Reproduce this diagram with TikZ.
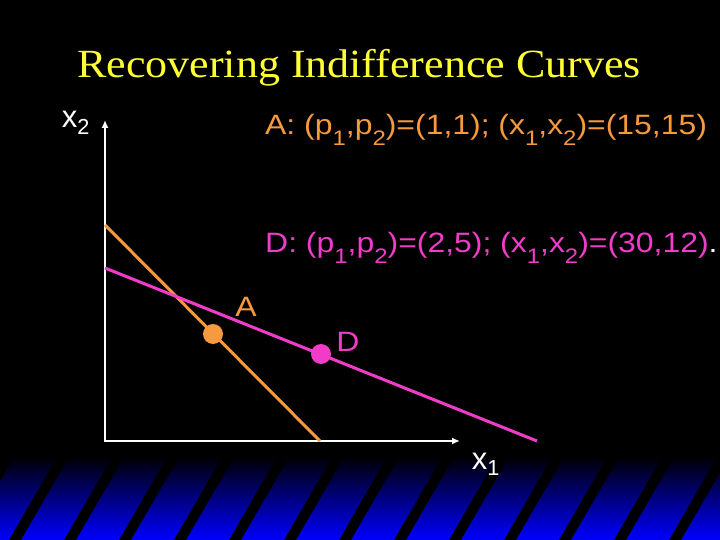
\documentclass[tikz,border=0pt]{standalone}
\usepackage{fontspec}
\setmainfont{Liberation Sans}
\newfontfamily\titlefont{Liberation Serif}
\usetikzlibrary{arrows.meta, positioning, calc}
\definecolor{titleyellow}{RGB}{255,255,51}
\definecolor{budgetorange}{RGB}{247,153,61}
\definecolor{budgetpink}{RGB}{240,60,200}
\definecolor{bandblue}{RGB}{0,0,255}
\newcommand{\lowsub}[1]{\raisebox{-11pt}{\fontsize{21}{21}\selectfont #1}}
\newcommand{\widetext}[1]{\scalebox{1.14}[1]{#1}}

\begin{document}
\begin{tikzpicture}[x=1pt, y=-1pt,
  axis/.style={white, line width=2pt, {Latex[length=8pt,width=7pt]}-{Latex[length=8pt,width=7pt]}},
  budget/.style={line width=3pt},
  bundle/.style={circle, inner sep=0pt, minimum size=20pt},
  infotext/.style={font=\fontsize{28}{32}\selectfont, anchor=base west, inner sep=0pt},
  axislabel/.style={font=\fontsize{31}{34}\selectfont, text=white}]
\fill[black] (0,0) rectangle (720,540);
\useasboundingbox (0,0) rectangle (720,540);
% striped band at the bottom
\shade[top color=black, bottom color=bandblue] (0,456) rectangle (720,540);
\begin{scope}
  \clip (0,452) rectangle (720,540);
  \foreach \k in {-1,...,13}
    \fill[black] ({9+55*\k},540) -- ({21+55*\k},540) -- ({72+55*\k},452) -- ({60+55*\k},452) -- cycle;
\end{scope}

\node[font=\titlefont\fontsize{40}{44}\selectfont, text=titleyellow] (title) at (359,68)
  {\scalebox{1.1}[1]{Recovering Indifference Curves}};

% axes
\coordinate (origin) at (105,441);
\coordinate (ytip) at (105,120);
\coordinate (xtip) at (460,441);
\draw[axis] (ytip) -- (origin) -- (xtip);
\node[axislabel] (xtwo) at (76,123) {x\textsubscript{2}};
\node[axislabel] (xone) at (486,464) {x\textsubscript{1}};

% budget lines
\coordinate (orangetop) at (105,225);
\coordinate (orangeend) at (320,441);
\coordinate (pinktop) at (105,268);
\coordinate (pinkend) at (537,441);
\draw[budget, budgetorange] (orangetop) -- (orangeend);
\draw[budget, budgetpink] (pinktop) -- (pinkend);

% chosen bundles
\node[bundle, fill=budgetorange] (bundleA) at (213,334) {};
\node[bundle, fill=budgetpink] (bundleD) at (321,354) {};
\node[font=\fontsize{28}{32}\selectfont, text=budgetorange] (nameA) at (246,307) {\widetext{A}};
\node[font=\fontsize{28}{32}\selectfont, text=budgetpink] (nameD) at (348,342) {\widetext{D}};

\node[infotext, text=budgetorange] (infoA) at (265,135)
  {\widetext{A: (p\lowsub{1},p\lowsub{2})=(1,1); (x\lowsub{1},x\lowsub{2})=(15,15)}};
\node[infotext, text=budgetpink] (infoD) at (265,252)
  {\widetext{D: (p\lowsub{1},p\lowsub{2})=(2,5); (x\lowsub{1},x\lowsub{2})=(30,12)\textcolor{white}{.}}};
\end{tikzpicture}
\end{document}
